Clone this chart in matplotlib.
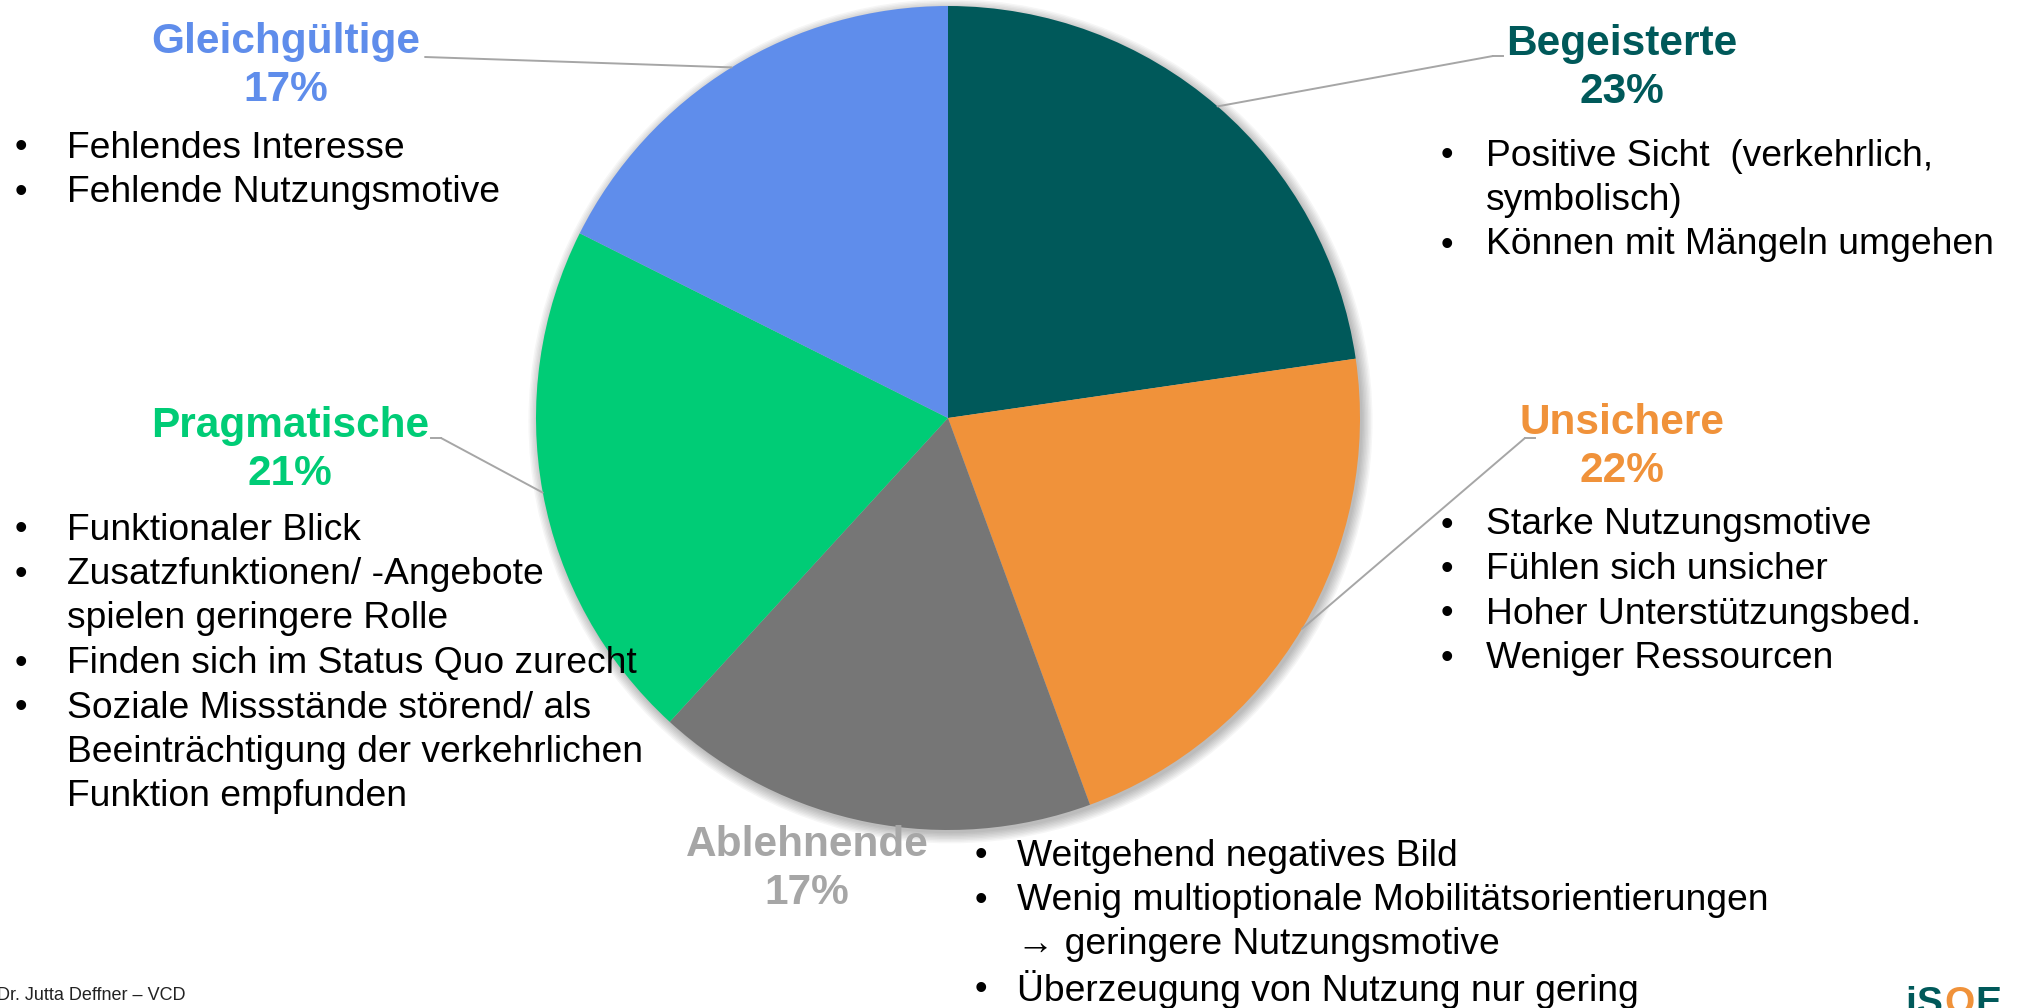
import numpy as np
import matplotlib
matplotlib.use("Agg")
import matplotlib.pyplot as plt
from matplotlib.patches import Circle

plt.rcParams['font.family'] = ['Liberation Sans', 'DejaVu Sans']

# daten
gruppen = ["Begeisterte", "Unsichere", "Ablehnende", "Pragmatische", "Gleichgültige"]
anteile = [22.7, 21.7, 17.4, 20.6, 17.6]
prozent = ["23%", "22%", "17%", "21%", "17%"]
farben = ["#00595A", "#F0923A", "#767676", "#00CC76", "#5F8DEB"]
titelfarben = ["#00595A", "#F0923A", "#A6A6A6", "#00CC76", "#5F8DEB"]

merkmale_begeisterte = ["Positive Sicht  (verkehrlich,\nsymbolisch)", "Können mit Mängeln umgehen"]
merkmale_unsichere = ["Starke Nutzungsmotive", "Fühlen sich unsicher",
                      "Hoher Unterstützungsbed.", "Weniger Ressourcen"]
merkmale_ablehnende = ["Weitgehend negatives Bild",
                       "Wenig multioptionale Mobilitätsorientierungen\n\u2192 geringere Nutzungsmotive",
                       "Überzeugung von Nutzung nur gering"]
merkmale_pragmatische = ["Funktionaler Blick", "Zusatzfunktionen/ -Angebote\nspielen geringere Rolle",
                         "Finden sich im Status Quo zurecht",
                         "Soziale Missstände störend/ als\nBeeinträchtigung der verkehrlichen\nFunktion empfunden"]
merkmale_gleichgueltige = ["Fehlendes Interesse", "Fehlende Nutzungsmotive"]
merkmale = [merkmale_begeisterte, merkmale_unsichere, merkmale_ablehnende,
            merkmale_pragmatische, merkmale_gleichgueltige]

fusszeile = "Dr. Jutta Deffner \u2013 VCD"

W, H = 2018, 1008
fig = plt.figure(figsize=(W / 100, H / 100), dpi=100)
fig.patch.set_facecolor("white")

# kreisdiagramm (mitte 948/418, radius 412 px)
cx, cy, r = 948, 418, 412
ax = fig.add_axes([(cx - r) / W, (H - cy - r) / H, 2 * r / W, 2 * r / H])
ax.set_xlim(-1, 1)
ax.set_ylim(-1, 1)
ax.set_aspect("equal")
ax.axis("off")

# weicher schatten
for k in range(8):
    ax.add_patch(Circle((0.006, -0.008), 1.0 + k * 0.0035, color="black",
                        alpha=0.035, lw=0, zorder=0, clip_on=False))

wedges, _ = ax.pie(anteile, colors=farben, startangle=90, counterclock=False, radius=1,
                   wedgeprops=dict(zorder=2))
ax.set_xlim(-1, 1)
ax.set_ylim(-1, 1)


def fx(x):
    return x / W


def fy(y):
    return 1 - y / H


# position der beschriftungen: titel-mitte, bullet x, text x, erste zeile y, linienanfang, knick
layout = {
    "Begeisterte":   dict(tx=1622, ty=68, bx=1441, sx=1486, y0=156, a=(1503, 56), k=(1493, 56)),
    "Unsichere":     dict(tx=1622, ty=447, bx=1441, sx=1486, y0=525, a=(1535, 438), k=(1525, 438)),
    "Ablehnende":    dict(tx=807, ty=869, bx=975, sx=1017, y0=856, a=None, k=None),
    "Pragmatische":  dict(tx=290, ty=450, bx=15, sx=67, y0=530, a=(431, 438), k=(441, 438)),
    "Gleichgültige": dict(tx=286, ty=66, bx=15, sx=67, y0=148, a=(425, 57), k=(425, 57)),
}
zeilenabstand = 44.5

for i, g in enumerate(gruppen):
    L = layout[g]
    fig.text(fx(L["tx"]), fy(L["ty"]), f"{g}\n{prozent[i]}", ha="center", va="center",
             fontsize=30.5, fontweight="bold", color=titelfarben[i], linespacing=1.25)
    y = L["y0"]
    for punkt in merkmale[i]:
        fig.text(fx(L["bx"]), fy(y), "\u2022", ha="left", va="center", fontsize=26, color="black")
        for zeile in punkt.split("\n"):
            fig.text(fx(L["sx"]), fy(y), zeile, ha="left", va="center", fontsize=26.8, color="black")
            y += zeilenabstand
    # verbindungslinie zur mitte des segments
    if L["a"] is not None:
        w = wedges[i]
        mitte = np.deg2rad((w.theta1 + w.theta2) / 2)
        ax.annotate("", xy=(np.cos(mitte), np.sin(mitte)), xycoords="data",
                    xytext=(L["k"][0], H - L["k"][1]), textcoords="figure pixels",
                    arrowprops=dict(arrowstyle="-", color="#A6A6A6", lw=1.4, shrinkA=0, shrinkB=0))
        fig.add_artist(plt.Line2D([fx(L["a"][0]), fx(L["k"][0])], [fy(L["a"][1]), fy(L["k"][1])],
                                  color="#A6A6A6", lw=1.4))

# fusszeile
fig.text(fx(-3), fy(995), fusszeile, ha="left", va="center", fontsize=13, color="#222222")

# logo (unten abgeschnitten)
logo = [("i", "#00595A", 1905), ("S", "#00595A", 1917), ("O", "#F0923A", 1944), ("E", "#00595A", 1975)]
for teil, farbe, lx in logo:
    fig.text(fx(lx), fy(1014), teil, ha="left", va="baseline", fontsize=28,
             fontweight="bold", color=farbe)

fig.savefig("out.png", dpi=100)
